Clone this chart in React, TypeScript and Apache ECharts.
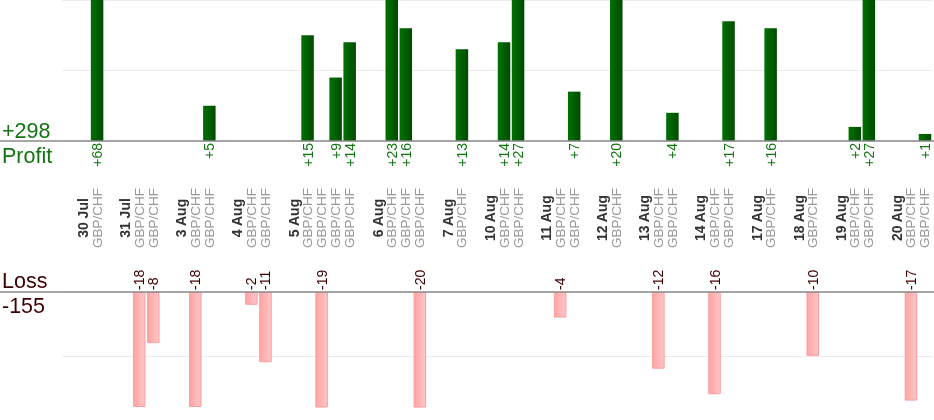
import React, { useEffect, useRef } from 'react';
import * as echarts from 'echarts';

// ---- data ----
const days = ['30 Jul', '31 Jul', '3 Aug', '4 Aug', '5 Aug', '6 Aug', '7 Aug', '10 Aug', '11 Aug', '12 Aug', '13 Aug', '14 Aug', '17 Aug', '18 Aug', '19 Aug', '20 Aug'];
const pair = 'GBP/CHF';
const tradeResults: number[][] = [
  [68],
  [-18, -8],
  [-18, 5],
  [-2, -11],
  [15, -19, 9, 14],
  [23, 16, -20],
  [13],
  [14, 27],
  [-4, 7],
  [20],
  [-12, 4],
  [-16, 17],
  [16],
  [-10],
  [2, 27],
  [-17, 1],
];
const profitAxis = { min: 0, max: 20, interval: 10 };
const lossAxis = { min: 0, max: 18, interval: 10 };

type Slot = { kind: 'gap' | 'date' | 'trade'; text: string; value: number | null };
const slots: Slot[] = [];
days.forEach((d, i) => {
  slots.push({ kind: 'gap', text: '', value: null });
  slots.push({ kind: 'date', text: d, value: null });
  tradeResults[i].forEach((v) => slots.push({ kind: 'trade', text: pair, value: v }));
});
const categories = slots.map((_, i) => String(i));
const profitData = slots.map((s) => (s.value !== null && s.value > 0 ? s.value : null));
const lossData = slots.map((s) => (s.value !== null && s.value < 0 ? -s.value : null));
const allTrades = tradeResults.flat();
const totalProfit = allTrades.filter((v) => v > 0).reduce((a, b) => a + b, 0);
const totalLoss = allTrades.filter((v) => v < 0).reduce((a, b) => a + b, 0);

// ---- layout ----
const W = 934;
const H = 420;
const GRID_LEFT = 62;
const GRID_RIGHT = 2;
const P_TOP = 0;
const P_HEIGHT = 141;
const L_TOP = 292;
const L_HEIGHT = 115;
const FONT = '"Liberation Sans", Arial, sans-serif';
const GREEN = '#127512';
const MAROON = '#3d0000';

export default function App() {
  const ref = useRef<HTMLDivElement>(null);
  useEffect(() => {
    if (!ref.current) return;
    const chart = echarts.init(ref.current, undefined, { renderer: 'svg' });
    const pBase = P_TOP + P_HEIGHT;
    const option: any = {
      animation: false,
      grid: [
        { left: GRID_LEFT, right: GRID_RIGHT, top: P_TOP, height: P_HEIGHT },
        { left: GRID_LEFT, right: GRID_RIGHT, top: L_TOP, height: L_HEIGHT },
      ],
      xAxis: [
        {
          type: 'category', gridIndex: 0, data: categories, position: 'bottom',
          axisLine: { show: false }, axisTick: { show: false }, splitLine: { show: false },
          axisLabel: {
            interval: 0, rotate: 90, margin: 2, color: GREEN, fontSize: 14, fontFamily: FONT,
            formatter: (_v: string, i: number) => {
              const s = slots[i];
              return s && s.value !== null && s.value > 0 ? '+' + s.value : '';
            },
          },
        },
        {
          type: 'category', gridIndex: 0, data: categories, position: 'bottom',
          axisLine: { show: false }, axisTick: { show: false }, splitLine: { show: false },
          axisLabel: {
            interval: 0, rotate: 90, margin: (L_TOP - pBase) / 2 + 1.5, align: 'center', verticalAlign: 'middle',
            fontFamily: FONT,
            formatter: (_v: string, i: number) => {
              const s = slots[i];
              if (!s) return '';
              if (s.kind === 'date') return '{d|' + s.text + '}';
              if (s.kind === 'trade') return '{p|' + s.text + '}';
              return '';
            },
            rich: {
              d: { fontWeight: 'bold', color: '#333333', fontSize: 14, fontFamily: FONT },
              p: { color: '#999999', fontSize: 13.5, fontFamily: FONT },
            },
          },
        },
        {
          type: 'category', gridIndex: 1, data: categories, position: 'top',
          axisLine: { show: false }, axisTick: { show: false }, splitLine: { show: false },
          axisLabel: {
            interval: 0, rotate: 90, margin: 2, color: MAROON, fontSize: 14, fontFamily: FONT,
            formatter: (_v: string, i: number) => {
              const s = slots[i];
              return s && s.value !== null && s.value < 0 ? String(s.value) : '';
            },
          },
        },
      ],
      yAxis: [
        {
          type: 'value', gridIndex: 0, min: profitAxis.min, max: profitAxis.max, interval: profitAxis.interval,
          axisLabel: { show: false }, axisLine: { show: false }, axisTick: { show: false },
          splitLine: { lineStyle: { color: '#ebebeb', width: 1 } },
        },
        {
          type: 'value', gridIndex: 1, min: lossAxis.min, max: lossAxis.max, interval: lossAxis.interval, inverse: true,
          axisLabel: { show: false }, axisLine: { show: false }, axisTick: { show: false },
          splitLine: { showMaxLine: false, lineStyle: { color: '#ebebeb', width: 1 } },
        },
      ],
      series: [
        {
          type: 'bar', xAxisIndex: 0, yAxisIndex: 0, data: profitData, barWidth: 12.5, clip: true,
          itemStyle: {
            color: new echarts.graphic.LinearGradient(0, 0, 1, 0, [
              { offset: 0, color: '#007200' },
              { offset: 1, color: '#004a00' },
            ]),
          },
        },
        {
          type: 'bar', xAxisIndex: 2, yAxisIndex: 1, data: lossData, barWidth: 12.5, clip: true,
          itemStyle: {
            color: new echarts.graphic.LinearGradient(0, 0, 1, 0, [
              { offset: 0, color: '#ffa4a4' },
              { offset: 1, color: '#ffc6c6' },
            ]),
            borderColor: '#ff9c9c', borderWidth: 1,
          },
        },
      ],
      graphic: [
        { type: 'line', z: 100, shape: { x1: 0, y1: pBase, x2: W, y2: pBase }, style: { stroke: '#8a8a8a', lineWidth: 1.5 } },
        { type: 'line', z: 100, shape: { x1: 0, y1: L_TOP, x2: W, y2: L_TOP }, style: { stroke: '#8a8a8a', lineWidth: 1.5 } },
        { type: 'text', z: 100, x: 2, y: pBase - 10.5, style: { text: '+' + totalProfit, fill: GREEN, font: '21.5px ' + FONT, verticalAlign: 'middle' } },
        { type: 'text', z: 100, x: 2, y: pBase + 14.5, style: { text: 'Profit', fill: GREEN, font: '21.5px ' + FONT, verticalAlign: 'middle' } },
        { type: 'text', z: 100, x: 2, y: L_TOP - 11.5, style: { text: 'Loss', fill: MAROON, font: '21.5px ' + FONT, verticalAlign: 'middle' } },
        { type: 'text', z: 100, x: 2, y: L_TOP + 13.5, style: { text: String(totalLoss), fill: MAROON, font: '21.5px ' + FONT, verticalAlign: 'middle' } },
      ],
    };
    chart.setOption(option);
    return () => chart.dispose();
  }, []);
  return <div ref={ref} style={{ position: 'fixed', left: 0, top: 0, width: W, height: H }} />;
}
